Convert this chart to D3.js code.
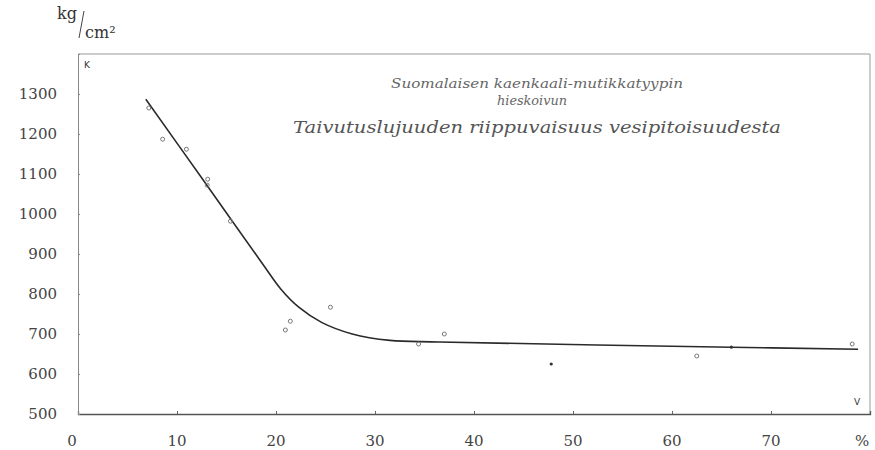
<!DOCTYPE html>
<html>
<head>
<meta charset="utf-8">
<script src="https://cdn.jsdelivr.net/npm/d3@7"></script>
<style>
  body { margin: 0; background: #fff; }
  svg { display: block; }
</style>
</head>
<body>
<svg id="chart" width="875" height="450"></svg>
<script>
// moisture content (%) vs bending strength (kg/cm2)
const moisture = [7.15, 8.55, 10.95, 13.1, 13.05, 15.4, 20.95, 21.45, 25.5, 34.4, 37.0, 47.8, 62.5, 66.0, 78.2]
const strength = [1265, 1187, 1162, 1087, 1072, 982, 710, 732, 767, 675, 700, 625, 645, 667, 675]
const filled = [false, false, false, false, false, false, false, false, false, false, false, true, false, true, false]

// hand drawn mean curve
const curveX = [6.85, 12.7, 18.6, 20.5, 22.3, 24.6, 27.7, 31.5, 36.5, 66.0, 78.8]
const curveY = [1287, 1083, 877, 812, 767, 729, 700, 684, 680, 667, 662]

const xTicks = [0, 10, 20, 30, 40, 50, 60, 70]
const yTicks = [500, 600, 700, 800, 900, 1000, 1100, 1200, 1300]

const titleLines = [
    "Suomalaisen kaenkaali-mutikkatyypin",
    "hieskoivun",
    "Taivutuslujuuden riippuvaisuus vesipitoisuudesta"
]

const svg = d3.select("#chart")
const serif = "'DejaVu Serif', 'Liberation Serif', serif"

const x = d3.scaleLinear().domain([0, 80]).range([78, 870])
const y = d3.scaleLinear().domain([500, 1400]).range([414, 54])

// frame
svg.append("path")
    .attr("d", `M${x(0)},${y(1400)} L${x(80)},${y(1400)} L${x(80)},${y(500)}`)
    .attr("fill", "none")
    .attr("stroke", "#999")
    .attr("stroke-width", 1)

// axes drawn with d3 axis, ticks pointing inward
const xAxis = svg.append("g")
    .attr("transform", "translate(0," + y(500) + ")")
    .call(d3.axisTop(x).tickValues(xTicks).tickSize(3).tickFormat(""))
xAxis.select(".domain").attr("stroke", "#555").attr("stroke-width", 1.3)
xAxis.selectAll(".tick line").attr("stroke", "#666")

const yAxis = svg.append("g")
    .attr("transform", "translate(" + x(0) + ",0)")
    .call(d3.axisRight(y).tickValues(yTicks).tickSize(2).tickFormat(""))
yAxis.select(".domain").attr("stroke", "#888").attr("stroke-width", 1)
yAxis.selectAll(".tick line").attr("stroke", "#888")

// tick labels
svg.append("g").selectAll("text")
    .data(yTicks)
    .join("text")
    .attr("x", 57)
    .attr("y", d => y(d))
    .attr("dy", "0.36em")
    .attr("text-anchor", "end")
    .style("font-family", serif)
    .style("font-size", "15px")
    .style("fill", "#444")
    .text(d => d)

svg.append("g").selectAll("text")
    .data(xTicks)
    .join("text")
    .attr("x", d => d === 0 ? x(d) - 6 : x(d))
    .attr("y", 446)
    .attr("text-anchor", "middle")
    .style("font-family", serif)
    .style("font-size", "15px")
    .style("fill", "#444")
    .text(d => d)

svg.append("text")
    .attr("x", x(79.2))
    .attr("y", 446)
    .attr("text-anchor", "middle")
    .style("font-family", serif)
    .style("font-size", "15px")
    .style("fill", "#444")
    .text("%")

// unit label kg/cm2
const unit = svg.append("g").style("font-family", serif).style("fill", "#333")
unit.append("text").attr("x", 57).attr("y", 19).style("font-size", "16px").text("kg")
unit.append("line")
    .attr("x1", 84).attr("y1", 11).attr("x2", 79).attr("y2", 38)
    .attr("stroke", "#444").attr("stroke-width", 1)
unit.append("text").attr("x", 85).attr("y", 38).style("font-size", "16px").text("cm²")

// corner letters
svg.append("text")
    .attr("x", 84).attr("y", 68)
    .style("font-family", "'DejaVu Sans', sans-serif")
    .style("font-size", "9px")
    .style("fill", "#333")
    .text("K")
svg.append("text")
    .attr("x", 854).attr("y", 405)
    .style("font-family", "'DejaVu Sans', sans-serif")
    .style("font-size", "9px")
    .style("fill", "#333")
    .text("V")

// handwritten title
const titleSpec = [
    { cx: 537, y: 88, size: 12, len: 292, fill: "#666" },
    { cx: 532, y: 105, size: 12, len: 70, fill: "#666" },
    { cx: 537, y: 133, size: 17, len: 488, fill: "#555" }
]
svg.append("g").selectAll("text")
    .data(titleLines)
    .join("text")
    .attr("x", (d, i) => titleSpec[i].cx)
    .attr("y", (d, i) => titleSpec[i].y)
    .attr("text-anchor", "middle")
    .attr("textLength", (d, i) => titleSpec[i].len)
    .attr("lengthAdjust", "spacingAndGlyphs")
    .style("font-family", serif)
    .style("font-style", "italic")
    .style("font-size", (d, i) => titleSpec[i].size + "px")
    .style("fill", (d, i) => titleSpec[i].fill)
    .text(d => d)

// mean curve
const curvePts = curveX.map((v, i) => [v, curveY[i]])
svg.append("path")
    .datum(curvePts)
    .attr("fill", "none")
    .attr("stroke", "#2a2a2a")
    .attr("stroke-width", 1.6)
    .attr("d", d3.line()
        .x(d => x(d[0]))
        .y(d => y(d[1]))
        .curve(d3.curveCatmullRom.alpha(0.5)))

// observations
const obs = moisture.map((v, i) => ({ m: v, s: strength[i], f: filled[i] }))
svg.append("g").selectAll("circle")
    .data(obs)
    .join("circle")
    .attr("cx", d => x(d.m))
    .attr("cy", d => y(d.s))
    .attr("r", d => d.f ? 1.6 : 2)
    .attr("fill", d => d.f ? "#333" : "none")
    .attr("stroke", d => d.f ? "none" : "#777")
    .attr("stroke-width", 1)
</script>
</body>
</html>
